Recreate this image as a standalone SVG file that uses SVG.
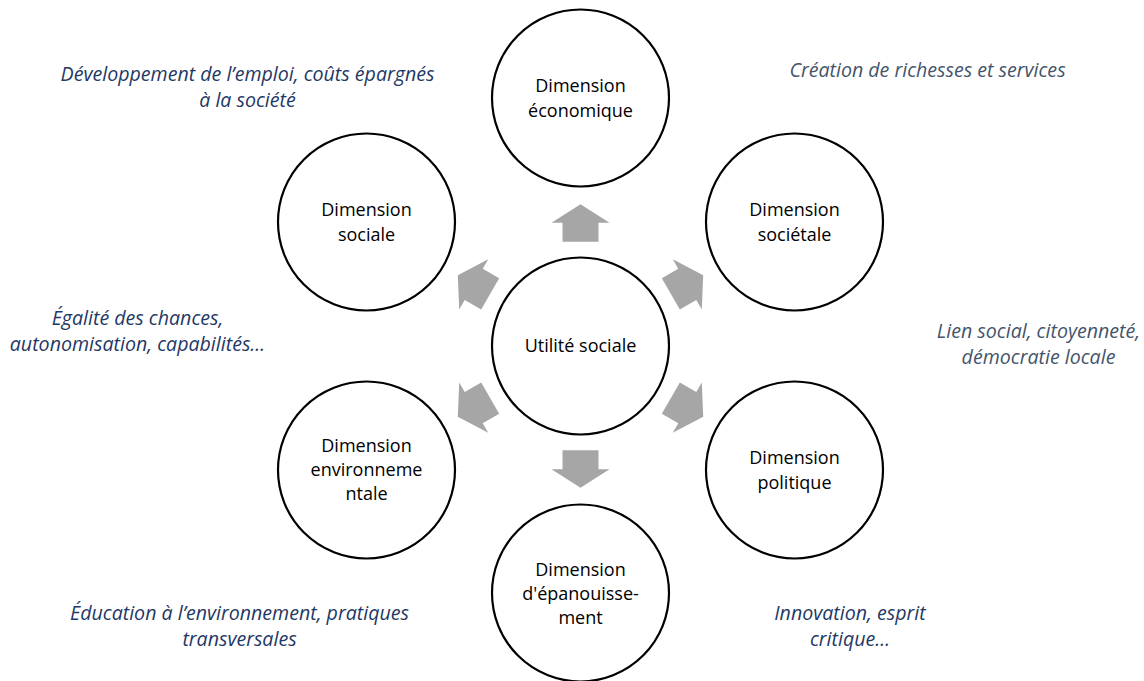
<svg xmlns="http://www.w3.org/2000/svg" xmlns:xlink="http://www.w3.org/1999/xlink" width="1144" height="681" viewBox="0 0 1144 681">
<style>
.node circle{fill:#fff;stroke:#000;stroke-width:2.2}
.node text{font-family:"Open Sans","Liberation Sans",sans-serif;font-size:18px;fill:#000;text-anchor:middle}
.lbl{font-family:"Open Sans","Liberation Sans",sans-serif;font-size:19.6px;font-style:italic;text-anchor:middle}
.navy{fill:#1F3864}
.slate{fill:#44546A}
.arr{fill:#A6A6A6}
</style>
<defs>
<path id="arrow" d="M0,-141.7 L29,-123.3 L18,-123.3 L18,-104.3 L-18,-104.3 L-18,-123.3 L-29,-123.3 Z"/>
</defs>
<rect width="1144" height="681" fill="#fff"/>
<g id="connectors" class="arr">
<use xlink:href="#arrow" href="#arrow" transform="translate(580.5,346) rotate(0)"/>
<use xlink:href="#arrow" href="#arrow" transform="translate(580.5,346) rotate(60)"/>
<use xlink:href="#arrow" href="#arrow" transform="translate(580.5,346) rotate(120)"/>
<use xlink:href="#arrow" href="#arrow" transform="translate(580.5,346) rotate(180)"/>
<use xlink:href="#arrow" href="#arrow" transform="translate(580.5,346) rotate(240)"/>
<use xlink:href="#arrow" href="#arrow" transform="translate(580.5,346) rotate(300)"/>
</g>
<g id="center" class="node">
<circle cx="580.5" cy="346" r="88.5"/>
<text x="580.5" y="352">Utilité sociale</text>
</g>
<g id="economique" class="node">
<circle cx="580.5" cy="98" r="88.5"/>
<text x="580.5" y="92">Dimension</text>
<text x="580.5" y="117">économique</text>
</g>
<g id="societale" class="node">
<circle cx="794.5" cy="222" r="88.5"/>
<text x="794.5" y="216">Dimension</text>
<text x="794.5" y="241">sociétale</text>
</g>
<g id="politique" class="node">
<circle cx="794.5" cy="470" r="88.5"/>
<text x="794.5" y="464">Dimension</text>
<text x="794.5" y="489">politique</text>
</g>
<g id="epanouissement" class="node">
<circle cx="580.5" cy="593" r="88.5"/>
<text x="580.5" y="576">Dimension</text>
<text x="580.5" y="600">d'épanouisse-</text>
<text x="580.5" y="624">ment</text>
</g>
<g id="environnementale" class="node">
<circle cx="366.5" cy="470" r="88.5"/>
<text x="366.5" y="452">Dimension</text>
<text x="366.5" y="476">environneme</text>
<text x="366.5" y="500">ntale</text>
</g>
<g id="sociale" class="node">
<circle cx="366.5" cy="222" r="88.5"/>
<text x="366.5" y="216">Dimension</text>
<text x="366.5" y="241">sociale</text>
</g>
<g id="labels">
<text class="lbl navy" x="247.5" y="81">Développement de l’emploi, coûts épargnés</text>
<text class="lbl navy" x="247.5" y="107">à la société</text>
<text class="lbl slate" x="927.5" y="77">Création de richesses et services</text>
<text class="lbl navy" x="137.5" y="325">Égalité des chances,</text>
<text class="lbl navy" x="137.5" y="351">autonomisation, capabilités…</text>
<text class="lbl slate" x="1038.5" y="338">Lien social, citoyenneté,</text>
<text class="lbl slate" x="1038.5" y="364">démocratie locale</text>
<text class="lbl navy" x="239.5" y="620">Éducation à l’environnement, pratiques</text>
<text class="lbl navy" x="239.5" y="646">transversales</text>
<text class="lbl navy" x="850" y="620">Innovation, esprit</text>
<text class="lbl navy" x="850" y="646">critique…</text>
</g>
</svg>
